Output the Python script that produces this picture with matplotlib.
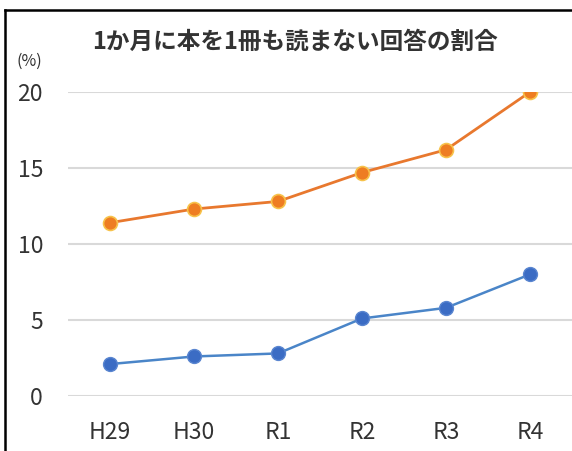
import matplotlib
matplotlib.use("Agg")
import matplotlib.pyplot as plt
from matplotlib.lines import Line2D

# =================================
# DATA
# =================================

years = ["H29", "H30", "R1", "R2", "R3", "R4"]
orange_values = [11.4, 12.3, 12.8, 14.7, 16.2, 20.0]
blue_values = [2.1, 2.6, 2.8, 5.1, 5.8, 8.0]
y_ticks = [0, 5, 10, 15, 20]

plt.rcParams["font.family"] = ["Noto Sans CJK JP", "DejaVu Sans"]

# =================================
# CHART
# =================================

fig = plt.figure(figsize=(5.72, 4.51), dpi=100)
ax = fig.add_axes([68 / 572, 1 - 396 / 451, 1 - 68 / 572, (396 - 92) / 451])

x = list(range(len(years)))

ax.plot(x, orange_values, color="#E8782E", linewidth=2, marker="o",
        markersize=10, markerfacecolor="#EE7D22", markeredgecolor="#F7C24A",
        markeredgewidth=1.2, zorder=3)
ax.plot(x, blue_values, color="#4A85C8", linewidth=1.8, marker="o",
        markersize=10, markerfacecolor="#3B6CC4", markeredgecolor="#5A86D0",
        markeredgewidth=1.0, zorder=3)

ax.set_xlim(-0.5, len(years) - 0.5)
ax.set_ylim(0, 20)
ax.set_yticks(y_ticks)
ax.set_xticks(x)
ax.set_xticklabels(years)

ax.grid(axis="y", color="#D9D9D9", linewidth=1.5)
ax.set_axisbelow(True)
for spine in ax.spines.values():
    spine.set_visible(False)

ax.tick_params(axis="both", length=0, colors="#333333", labelsize=16.5)
ax.tick_params(axis="y", pad=18)
ax.tick_params(axis="x", pad=18)

fig.text(295 / 572, 1 - 42 / 451, "1か月に本を1冊も読まない回答の割合",
         ha="center", va="center", fontsize=17, fontweight="bold",
         color="#333333")
fig.text(29 / 572, 1 - 61 / 451, "(%)", ha="center", va="center",
         fontsize=11.5, color="#333333")

# black frame: only top and left edges are visible in the crop
fig.add_artist(Line2D([5 / 572, 1], [1 - 10 / 451, 1 - 10 / 451],
                      transform=fig.transFigure, color="black", linewidth=1.8))
fig.add_artist(Line2D([5 / 572, 5 / 572], [0, 1 - 10 / 451],
                      transform=fig.transFigure, color="black", linewidth=1.8))

plt.savefig("out.png", dpi=100)
